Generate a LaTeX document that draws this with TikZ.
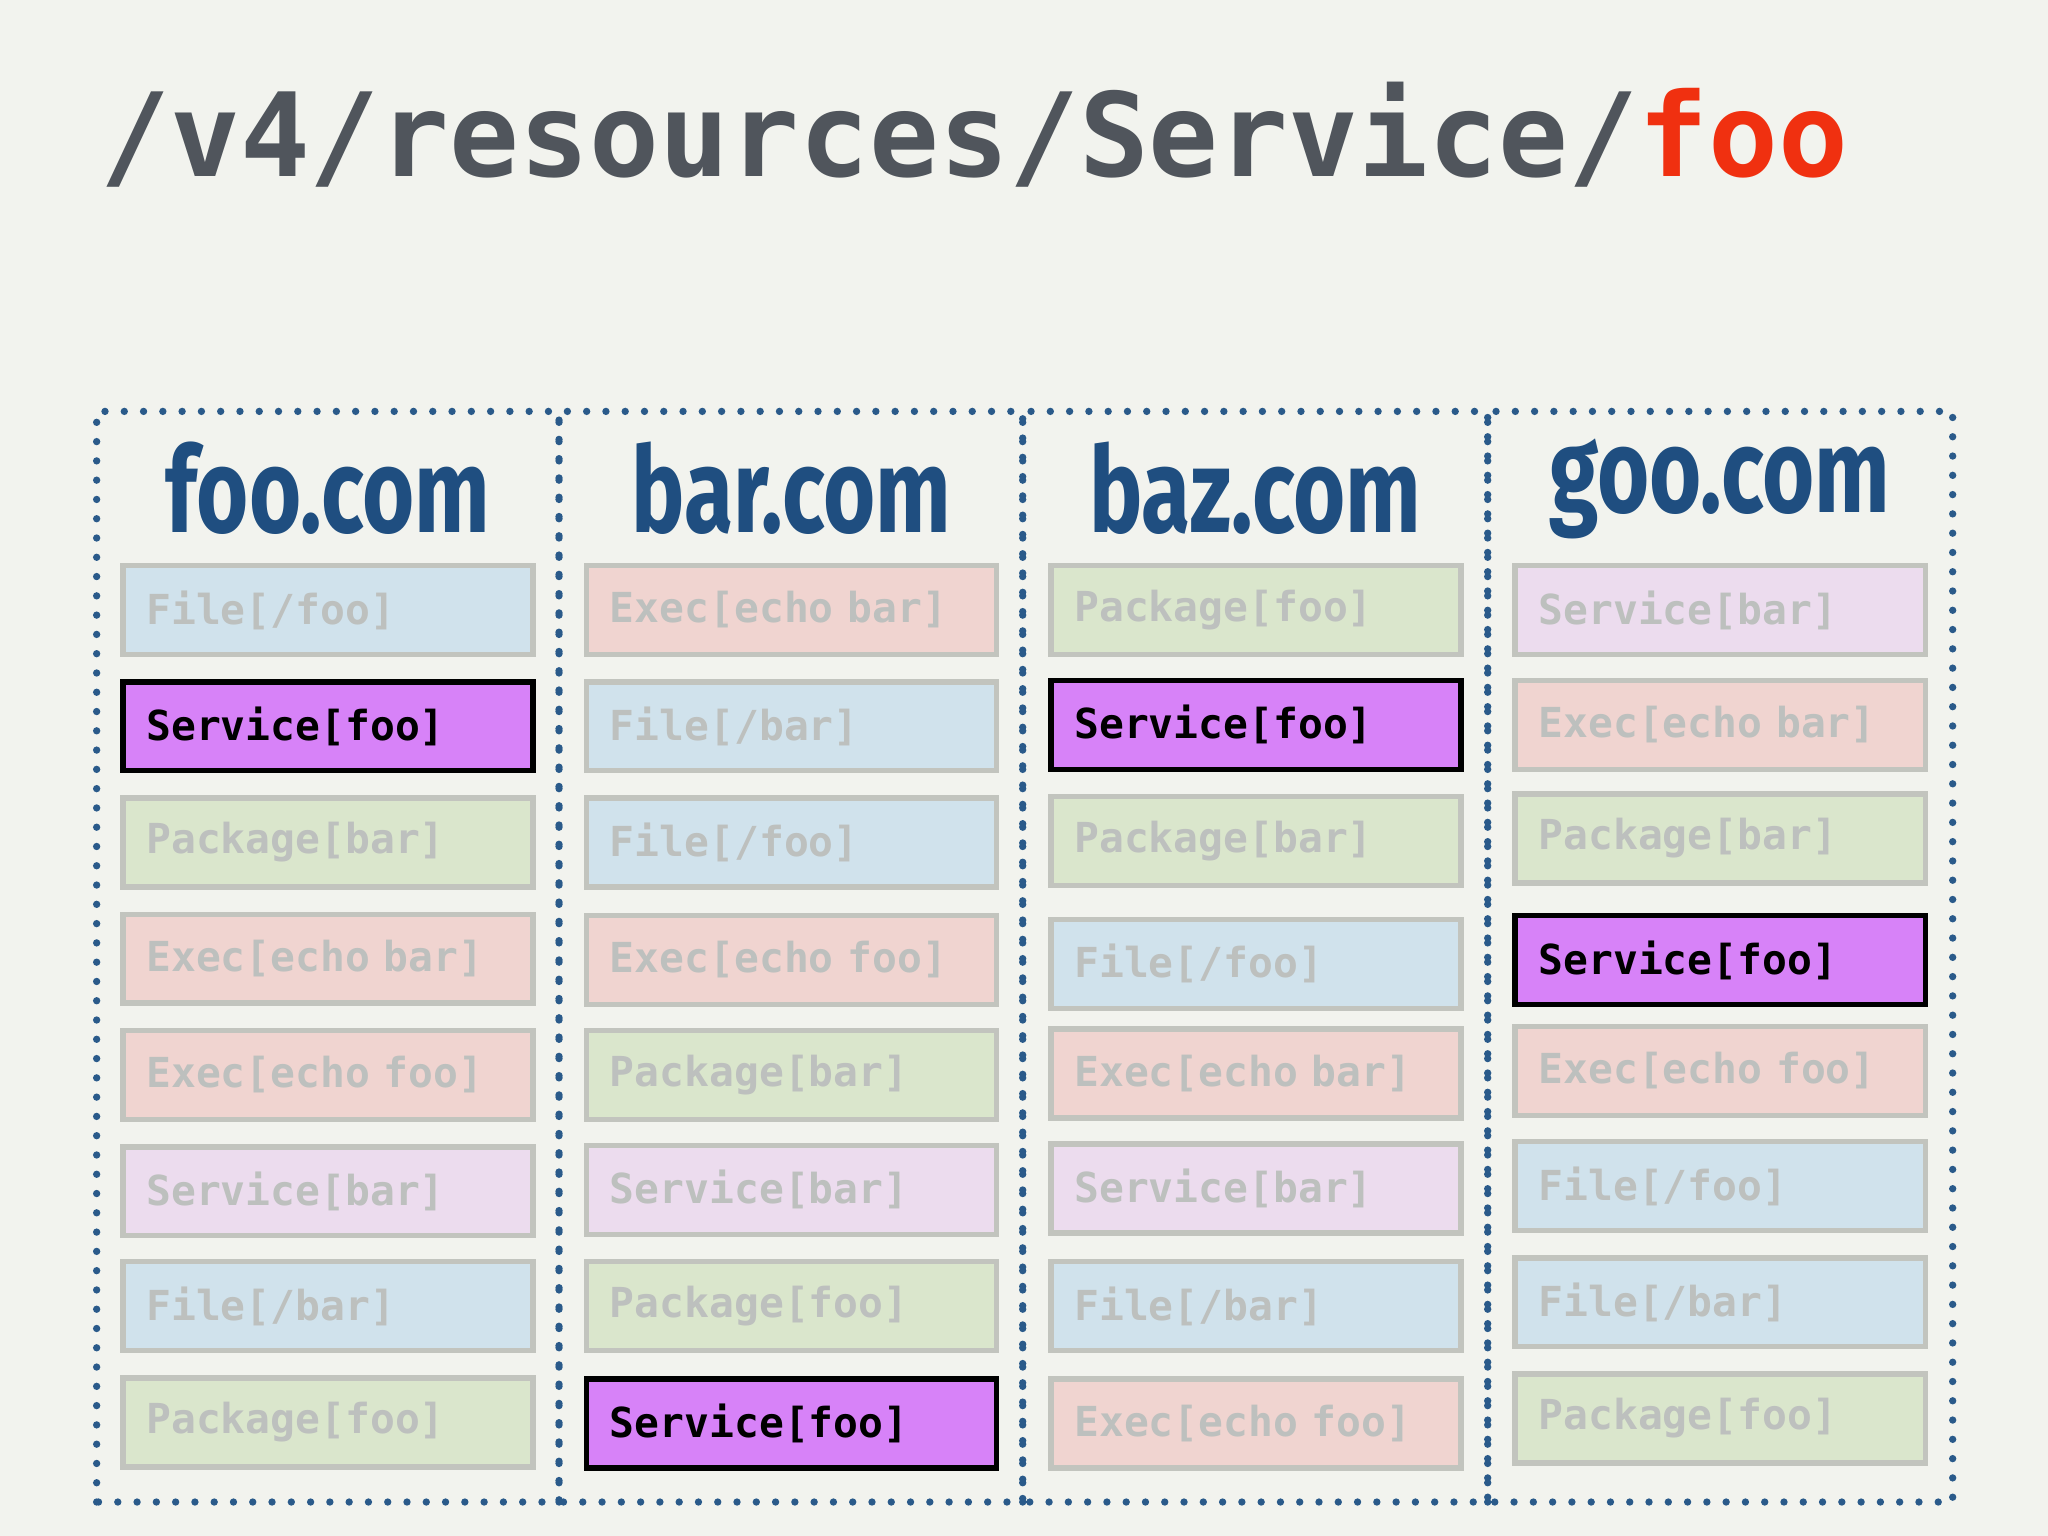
\documentclass[tikz,border=0pt]{standalone}
\usepackage{fontspec}
\setmonofont{DejaVu Sans Mono}
\newfontfamily\hdrfont{Fira Sans}
\definecolor{bg}{HTML}{F2F3EE}
\definecolor{ttl}{HTML}{50555C}
\definecolor{ttlred}{HTML}{F03010}
\definecolor{hdr}{HTML}{1F4E80}
\definecolor{dots}{HTML}{2A5A8A}
\definecolor{cFile}{HTML}{D0E2EC}
\definecolor{cExec}{HTML}{F0D4D0}
\definecolor{cPkg}{HTML}{DAE6CC}
\definecolor{cSvc}{HTML}{ECDCEE}
\definecolor{cHi}{HTML}{D782F8}
\definecolor{fadeborder}{HTML}{C2C4BE}
\definecolor{fadetext}{HTML}{BDC0BE}
\tikzset{
 res/.style={draw=fadeborder,line width=1.2pt,minimum width=3.14cm,minimum height=0.68cm,text width=2.78cm,align=left,font=\ttfamily\bfseries\fontsize{9}{9}\selectfont,text=fadetext,inner sep=0pt},
 File/.style={res,fill=cFile}, Exec/.style={res,fill=cExec}, Pkg/.style={res,fill=cPkg}, Svc/.style={res,fill=cSvc},
 Hi/.style={res,fill=cHi,draw=black,text=black},
 col/.style={draw=dots,line width=1.6pt,dash pattern=on 0pt off 4.2pt,line cap=round},
 hdrs/.style={font=\hdrfont\bfseries\fontsize{26}{26}\selectfont,text=hdr,xscale=0.75}
}
\begin{document}
\begin{tikzpicture}[x=1cm,y=1cm]
\fill[bg] (0,0) rectangle (15.68,11.76);
\useasboundingbox (0,0) rectangle (15.68,11.76);
\node[anchor=base west,inner sep=0pt,font=\ttfamily\bfseries\fontsize{25.3}{25.3}\selectfont,text=ttl] (title) at (0.76,10.41) {/v4/resources/Service/\textcolor{ttlred}{foo}};
% columns
\foreach \i/\a/\b in {1/0.74/4.28,2/4.28/7.83,3/7.83/11.39,4/11.39/14.95}{
 \draw[col] (\a,0.26) rectangle (\b,8.61);
}
\node[hdrs] (h1) at (2.51,8.02) {foo.com};
\node[hdrs] (h2) at (6.06,8.02) {bar.com};
\node[hdrs] (h3) at (9.61,8.02) {baz.com};
\node[hdrs] (h4) at (13.17,8.02) {goo.com};
% column 1
\foreach \n/\s/\y/\t in {a/File/467/{File[/foo]},b/Hi/556/{Service[foo]},c/Pkg/645/{Package[bar]},d/Exec/734/{Exec[echo bar]},e/Exec/823/{Exec[echo foo]},f/Svc/912/{Service[bar]},g/File/1000/{File[/bar]},h/Pkg/1089/{Package[foo]}}
 \node[\s] (c1\n) at (2.51,{(1176-\y)/100}) {\t};
\foreach \n/\s/\y/\t in {a/Exec/467/{Exec[echo bar]},b/File/556/{File[/bar]},c/File/645/{File[/foo]},d/Exec/735/{Exec[echo foo]},e/Pkg/823/{Package[bar]},f/Svc/911/{Service[bar]},g/Pkg/1000/{Package[foo]},h/Hi/1090/{Service[foo]}}
 \node[\s] (c2\n) at (6.06,{(1176-\y)/100}) {\t};
\foreach \n/\s/\y/\t in {a/Pkg/467/{Package[foo]},b/Hi/555/{Service[foo]},c/Pkg/644/{Package[bar]},d/File/738/{File[/foo]},e/Exec/822/{Exec[echo bar]},f/Svc/910/{Service[bar]},g/File/1000/{File[/bar]},h/Exec/1090/{Exec[echo foo]}}
 \node[\s] (c3\n) at (9.615,{(1176-\y)/100}) {\t};
\foreach \n/\s/\y/\t in {a/Svc/467/{Service[bar]},b/Exec/555/{Exec[echo bar]},c/Pkg/642/{Package[bar]},d/Hi/735/{Service[foo]},e/Exec/820/{Exec[echo foo]},f/File/908/{File[/foo]},g/File/997/{File[/bar]},h/Pkg/1086/{Package[foo]}}
 \node[\s] (c4\n) at (13.17,{(1176-\y)/100}) {\t};
\end{tikzpicture}
\end{document}
